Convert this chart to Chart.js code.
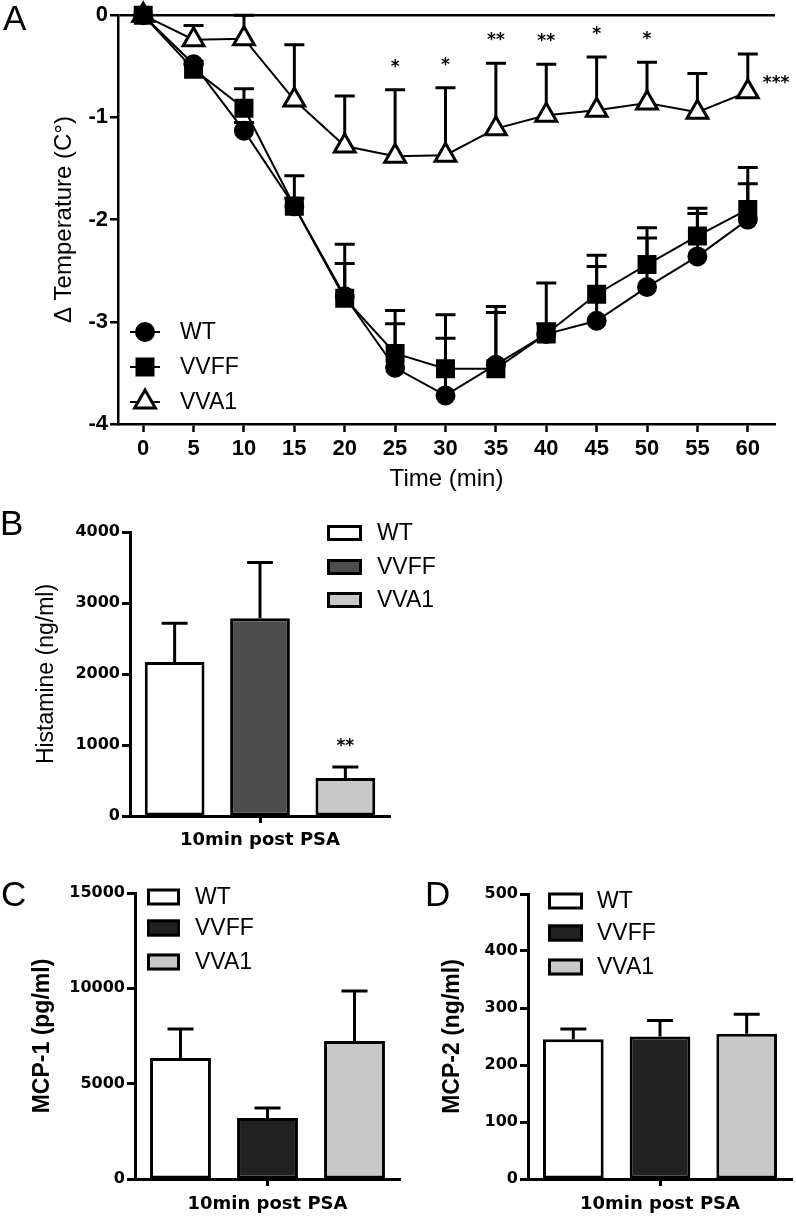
<!DOCTYPE html>
<html>
<head>
<meta charset="utf-8">
<script src="https://cdn.jsdelivr.net/npm/chart.js@4.4.1/dist/chart.umd.min.js"></script>
<style>
  html, body { margin: 0; padding: 0; background: #fff; }
  #page { position: relative; width: 796px; height: 1216px; overflow: hidden; background: #fff; }
  canvas { position: absolute; }
  .panel { position: absolute; font-family: 'Liberation Sans', Arial, sans-serif; font-size: 35px; line-height: 1; color: #000; }
</style>
</head>
<body>
<div id="page">
  <canvas id="chartA" width="796" height="500" style="left:0;top:0"></canvas>
  <canvas id="chartB" width="460" height="350" style="left:0;top:500px"></canvas>
  <canvas id="chartC" width="402" height="386" style="left:0;top:830px"></canvas>
  <canvas id="chartD" width="394" height="386" style="left:402px;top:830px"></canvas>
  <div class="panel" style="left:3px;top:0">A</div>
  <div class="panel" style="left:0;top:505px">B</div>
  <div class="panel" style="left:1px;top:876px">C</div>
  <div class="panel" style="left:425px;top:876px">D</div>
</div>
<script>
// panel A - temperature drop
const minutes = [0, 5, 10, 15, 20, 25, 30, 35, 40, 45, 50, 55, 60];
const wtTemp = [0, -0.48, -1.13, -1.87, -2.75, -3.45, -3.72, -3.42, -3.12, -2.99, -2.66, -2.36, -2.0];
const wtTempErr = [0, 0.03, 0.08, 0.08, 0.51, 0.43, 0.56, 0.51, 0.5, 0.53, 0.48, 0.42, 0.35];
const vvffTemp = [0, -0.53, -0.91, -1.87, -2.77, -3.31, -3.46, -3.46, -3.12, -2.73, -2.44, -2.16, -1.90];
const vvffTempErr = [0, 0.05, 0.19, 0.30, 0.34, 0.42, 0.53, 0.61, 0.1, 0.38, 0.36, 0.27, 0.41];
const vva1Temp = [0, -0.24, -0.23, -0.83, -1.28, -1.38, -1.37, -1.11, -0.98, -0.93, -0.86, -0.95, -0.75];
const vva1TempErr = [0, 0.14, 0.23, 0.54, 0.49, 0.65, 0.66, 0.64, 0.50, 0.52, 0.40, 0.38, 0.37];
const tempSig = ['', '', '', '', '', '*', '*', '**', '**', '*', '*', '', '***'];
const tempTicks = [-4, -3, -2, -1, 0];

// panels B-D - one time point, three groups
const groups = ['WT', 'VVFF', 'VVA1'];
const sampleLabel = ['10min post PSA'];
const histamine = [2170, 2785, 534];
const histamineErr = [545, 787, 156];
const histamineSig = ['', '', '**'];
const histamineTicks = [0, 1000, 2000, 3000, 4000];
const mcp1 = [6350, 3200, 7240];
const mcp1Err = [1520, 525, 2620];
const mcp1Ticks = [0, 5000, 10000, 15000];
const mcp2 = [245, 250, 255];
const mcp2Err = [18, 28, 34];
const mcp2Ticks = [0, 100, 200, 300, 400, 500];

const SANS = "'Liberation Sans', Arial, sans-serif";
const DEJA = "'DejaVu Sans', Verdana, sans-serif";

function valueOf(d) {
    return (d !== null && typeof d === 'object') ? d.y : d;
}

// upper error bars + significance stars, placed through the chart's own scales
const errorBars = {
    id: 'errorBars',
    beforeDatasetsDraw(chart, args, opts) {
        if (opts.under) drawErrors(chart, opts);
    },
    afterDatasetsDraw(chart, args, opts) {
        if (!opts.under) drawErrors(chart, opts);
        drawStars(chart, opts);
    }
};

function drawErrors(chart, opts) {
    const ctx = chart.ctx;
    const yScale = chart.scales.y;
    ctx.save();
    ctx.strokeStyle = '#000';
    ctx.lineWidth = opts.lineWidth || 3;
    ctx.lineCap = 'butt';
    chart.data.datasets.forEach((ds, i) => {
        const meta = chart.getDatasetMeta(i);
        meta.data.forEach((el, j) => {
            const err = ds.errors ? ds.errors[j] : 0;
            if (!err) return;
            const v = valueOf(ds.data[j]);
            const top = yScale.getPixelForValue(v + err);
            const base = yScale.getPixelForValue(v);
            const half = opts.capWidth / 2;
            ctx.beginPath();
            ctx.moveTo(el.x, base);
            ctx.lineTo(el.x, top);
            ctx.moveTo(el.x - half, top);
            ctx.lineTo(el.x + half, top);
            ctx.stroke();
        });
    });
    ctx.restore();
}

function drawStars(chart, opts) {
    const ctx = chart.ctx;
    const yScale = chart.scales.y;
    ctx.save();
    ctx.fillStyle = '#000';
    ctx.font = opts.starFont;
    ctx.textBaseline = 'alphabetic';
    chart.data.datasets.forEach((ds, i) => {
        if (!ds.sig) return;
        const meta = chart.getDatasetMeta(i);
        meta.data.forEach((el, j) => {
            const s = ds.sig[j];
            if (!s) return;
            const v = valueOf(ds.data[j]);
            if (opts.lastBeside && j === ds.data.length - 1) {
                ctx.textAlign = 'left';
                ctx.fillText(s, el.x + 15, el.y - 4);
            } else {
                const top = yScale.getPixelForValue(v + (ds.errors ? ds.errors[j] : 0));
                ctx.textAlign = 'center';
                ctx.fillText(s, el.x, top - opts.starGap);
            }
        });
    });
    ctx.restore();
}

function drawMarker(ctx, style, x, y, r) {
    ctx.beginPath();
    if (style === 'circle') {
        ctx.arc(x, y, r, 0, Math.PI * 2);
    } else if (style === 'rect') {
        const s = r * Math.SQRT1_2;
        ctx.rect(x - s, y - s, 2 * s, 2 * s);
    } else {
        for (let k = 0; k < 3; k++) {
            const a = k * 2 * Math.PI / 3;
            const px = x + Math.sin(a) * r, py = y - Math.cos(a) * r;
            if (k === 0) ctx.moveTo(px, py); else ctx.lineTo(px, py);
        }
        ctx.closePath();
    }
    ctx.fill();
    ctx.stroke();
}

// legend with line + marker (panel A)
const markLegend = {
    id: 'markLegend',
    afterDraw(chart, args, opts) {
        if (!opts.rows) return;
        const ctx = chart.ctx;
        ctx.save();
        chart.data.datasets.forEach((ds, i) => {
            const y = opts.rows[i];
            ctx.strokeStyle = '#000';
            ctx.lineWidth = 2;
            ctx.beginPath();
            ctx.moveTo(opts.x, y);
            ctx.lineTo(opts.x + opts.len, y);
            ctx.stroke();
            ctx.fillStyle = ds.pointBackgroundColor;
            ctx.lineWidth = ds.pointBorderWidth;
            drawMarker(ctx, ds.pointStyle, opts.x + opts.len / 2, y, ds.pointRadius);
            ctx.fillStyle = '#000';
            ctx.font = opts.font;
            ctx.textAlign = 'left';
            ctx.textBaseline = 'middle';
            ctx.fillText(ds.label, opts.textX, y + 1);
        });
        ctx.restore();
    }
};

// legend with filled boxes (panels B-D)
const boxLegend = {
    id: 'boxLegend',
    afterDraw(chart, args, opts) {
        if (!opts.rows) return;
        const ctx = chart.ctx;
        ctx.save();
        chart.data.datasets.forEach((ds, i) => {
            const y = opts.rows[i];
            ctx.fillStyle = ds.backgroundColor;
            ctx.strokeStyle = '#000';
            ctx.lineWidth = 3;
            ctx.fillRect(opts.x, y - opts.h / 2, opts.w, opts.h);
            ctx.strokeRect(opts.x + 1.5, y - opts.h / 2 + 1.5, opts.w - 3, opts.h - 3);
            ctx.fillStyle = '#000';
            ctx.font = opts.font;
            ctx.textAlign = 'left';
            ctx.textBaseline = 'middle';
            ctx.fillText(ds.label, opts.textX, y + 1);
        });
        ctx.restore();
    }
};

Chart.register(errorBars, markLegend, boxLegend);

function lineSet(label, values, errs, style, radius, fill, bw, sig) {
    return {
        label: label,
        data: minutes.map((m, i) => ({x: m, y: values[i]})),
        errors: errs,
        sig: sig,
        borderColor: '#000',
        borderWidth: 2,
        backgroundColor: fill,
        pointStyle: style,
        pointRadius: radius,
        pointBackgroundColor: fill,
        pointBorderColor: '#000',
        pointBorderWidth: bw,
        clip: false
    };
}

new Chart(document.getElementById('chartA'), {
    type: 'line',
    data: {
        datasets: [
            lineSet('WT', wtTemp, wtTempErr, 'circle', 9, '#000', 2, null),
            lineSet('VVFF', vvffTemp, vvffTempErr, 'rect', 12, '#000', 2, null),
            lineSet('VVA1', vva1Temp, vva1TempErr, 'triangle', 12, '#fff', 3, tempSig)
        ]
    },
    options: {
        responsive: false,
        animation: false,
        layout: {padding: {left: 0, top: 12, right: 21, bottom: 0}},
        scales: {
            x: {
                type: 'linear',
                min: -2.5,
                max: 62.7,
                afterBuildTicks: s => { s.ticks = minutes.map(v => ({value: v})); },
                afterFit: s => { s.height = 76; },
                border: {display: true, color: '#000', width: 2.5},
                grid: {drawOnChartArea: false, drawTicks: true, tickLength: 8, tickColor: '#000', tickWidth: 2.5},
                ticks: {color: '#000', padding: 4, font: {family: SANS, size: 22, weight: 'bold'}},
                title: {display: true, text: 'Time (min)', color: '#000',
                        font: {family: SANS, size: 24}, padding: {top: 0, bottom: 6}}
            },
            y: {
                min: -4,
                max: 0,
                afterBuildTicks: s => { s.ticks = tempTicks.map(v => ({value: v})); },
                afterFit: s => { s.width = 118; },
                border: {display: true, color: '#000', width: 2.5},
                grid: {
                    drawOnChartArea: true,
                    color: c => (c.tick && c.tick.value === 0) ? '#000' : 'rgba(0,0,0,0)',
                    lineWidth: 2.5,
                    drawTicks: true, tickLength: 8, tickColor: '#000', tickWidth: 2.5
                },
                ticks: {color: '#000', padding: 2, font: {family: SANS, size: 22, weight: 'bold'}},
                title: {display: true, text: 'Δ Temperature (C°)', color: '#000',
                        font: {family: SANS, size: 24}, padding: {top: 50, bottom: 0}}
            }
        },
        plugins: {
            legend: {display: false},
            tooltip: {enabled: false},
            errorBars: {under: true, capWidth: 20, lineWidth: 3, starFont: 'bold 17px ' + DEJA, starGap: 18, lastBeside: true},
            markLegend: {x: 130, len: 30, rows: [332, 367, 402], textX: 180, font: '23px ' + SANS}
        }
    }
});

function barChart(id, values, errs, sig, ticks, title, titleBold, colors, geo) {
    return new Chart(document.getElementById(id), {
        type: 'bar',
        data: {
            labels: sampleLabel,
            datasets: groups.map((g, i) => ({
                label: g,
                data: [values[i]],
                errors: [errs[i]],
                sig: sig ? [sig[i]] : null,
                backgroundColor: colors[i],
                borderColor: '#000',
                borderWidth: 3,
                borderSkipped: false,
                categoryPercentage: 0.985,
                barPercentage: 0.7
            }))
        },
        options: {
            responsive: false,
            animation: false,
            layout: {padding: geo.padding},
            scales: {
                x: {
                    afterFit: s => { s.height = geo.xHeight; },
                    border: {display: true, color: '#000', width: 3},
                    grid: {offset: false, drawOnChartArea: false, drawTicks: true, tickLength: 7, tickColor: '#000', tickWidth: 3},
                    ticks: {color: '#000', padding: geo.catPad, font: {family: DEJA, size: 18, weight: 'bold'}}
                },
                y: {
                    min: 0,
                    max: ticks[ticks.length - 1],
                    afterBuildTicks: s => { s.ticks = ticks.map(v => ({value: v})); },
                    afterFit: s => { s.width = geo.yWidth; },
                    border: {display: true, color: '#000', width: 3},
                    grid: {drawOnChartArea: false, drawTicks: true, tickLength: 8, tickColor: '#000', tickWidth: 3},
                    ticks: {color: '#000', padding: 2, font: {family: DEJA, size: 16, weight: 'bold'},
                            callback: v => String(v)},
                    title: {display: true, text: title, color: '#000',
                            font: {family: SANS, size: 23, weight: titleBold ? 'bold' : 'normal'},
                            padding: {top: geo.titlePad, bottom: 0}}
                }
            },
            plugins: {
                legend: {display: false},
                tooltip: {enabled: false},
                errorBars: {under: false, capWidth: 26, lineWidth: 3, starFont: 'bold 17px ' + DEJA, starGap: 16},
                boxLegend: {x: geo.legX, w: geo.legW, h: geo.legH, rows: geo.legRows, textX: geo.legTextX, font: '23px ' + SANS}
            }
        }
    });
}

barChart('chartB', histamine, histamineErr, histamineSig, histamineTicks, 'Histamine (ng/ml)', false,
    ['#ffffff', '#4d4d4d', '#c8c8c8'],
    {padding: {left: 0, top: 32, right: 70, bottom: 0}, xHeight: 34, yWidth: 130, catPad: 7, titlePad: 33,
     legX: 327, legW: 35, legH: 16, legRows: [33, 67, 100], legTextX: 377});

barChart('chartC', mcp1, mcp1Err, null, mcp1Ticks, 'MCP-1 (pg/ml)', true,
    ['#ffffff', '#222222', '#c8c8c8'],
    {padding: {left: 0, top: 63, right: 2, bottom: 0}, xHeight: 37, yWidth: 135, catPad: 8, titlePad: 29,
     legX: 147, legW: 33, legH: 17, legRows: [67, 98, 132], legTextX: 195});

barChart('chartD', mcp2, mcp2Err, null, mcp2Ticks, 'MCP-2 (ng/ml)', true,
    ['#ffffff', '#222222', '#c8c8c8'],
    {padding: {left: 0, top: 64, right: 4, bottom: 0}, xHeight: 37, yWidth: 126, catPad: 8, titlePad: 37,
     legX: 146, legW: 35, legH: 17, legRows: [71, 103, 137], legTextX: 195});
</script>
</body>
</html>
